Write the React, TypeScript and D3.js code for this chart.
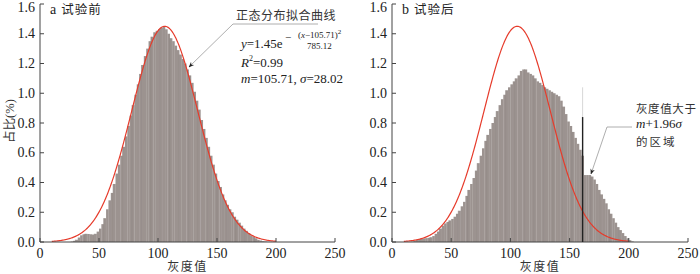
import * as d3 from 'd3';

// histogram bins, 2 gray levels wide, percentage per bin
const binWidth = 2;
const beforeStart = 20;
const beforeValues = [
  0, 0, 0, 0.003, 0.008, 0.015, 0.03, 0.045, 0.052, 0.055, 0.054, 0.052, 0.05, 0.055, 0.07,
  0.09, 0.12, 0.16, 0.22, 0.28, 0.33, 0.39, 0.46, 0.52, 0.58, 0.64, 0.71, 0.78, 0.85, 0.92,
  0.99, 1.06, 1.13, 1.19, 1.25, 1.3, 1.35, 1.38, 1.41, 1.42, 1.43, 1.44, 1.45, 1.43, 1.4,
  1.37, 1.35, 1.32, 1.29, 1.26, 1.23, 1.2, 1.16, 1.12, 1.07, 1.01, 0.95, 0.89, 0.82, 0.76,
  0.7, 0.64, 0.58, 0.52, 0.46, 0.41, 0.37, 0.32, 0.28, 0.25, 0.22, 0.2, 0.17, 0.15, 0.13,
  0.11, 0.09, 0.075, 0.06, 0.045, 0.035, 0.025, 0.015, 0.01, 0.006, 0.004, 0.002, 0.001, 0, 0,
];
const afterStart = 14;
const afterValues = [
  0, 0.003, 0.008, 0.015, 0.02, 0.022, 0.024, 0.026, 0.028, 0.032, 0.04, 0.055, 0.07, 0.09,
  0.11, 0.125, 0.135, 0.145, 0.155, 0.17, 0.19, 0.21, 0.24, 0.27, 0.31, 0.35, 0.39, 0.43,
  0.48, 0.53, 0.58, 0.63, 0.68, 0.72, 0.76, 0.8, 0.84, 0.88, 0.92, 0.96, 0.99, 1.02, 1.04,
  1.06, 1.08, 1.1, 1.12, 1.15, 1.16, 1.16, 1.14, 1.13, 1.12, 1.1, 1.08, 1.07, 1.055, 1.04,
  1.03, 1.02, 1.01, 1.0, 0.99, 0.98, 0.95, 0.91, 0.86, 0.81, 0.78, 0.74, 0.7, 0.66, 0.62,
  0.58, 0.45, 0.45, 0.45, 0.44, 0.42, 0.39, 0.35, 0.32, 0.29, 0.26, 0.22, 0.19, 0.16, 0.13,
  0.1, 0.08, 0.06, 0.04, 0.025, 0.012, 0.004, 0,
];

// fitted normal curve parameters (from the annotation)
const fitAmp = 1.45;
const fitMean = 105.71;
const fitVar = 785.12;
const fitRange = [10, 200];

const xTicks = [0, 50, 100, 150, 200, 250];
const yTicks = [0, 0.2, 0.4, 0.6, 0.8, 1.0, 1.2, 1.4, 1.6];
const thresholdGray = 161; // m + 1.96σ
const thresholdLine = [0.84, 1.04];

const serif = '"Liberation Serif", "Times New Roman", serif';
const cjk = '"Noto Sans CJK SC", sans-serif';
const barFill = '#9c9390';
const red = '#e63b2b';

const top = 4;
const bottom = 242;

function Panel({ left, right, start, values, letter, title, yLabel, children }: any) {
  const x = d3.scaleLinear().domain([0, 250]).range([left, right]);
  const y = d3.scaleLinear().domain([0, 1.6]).range([bottom, top]);

  const fitPts = d3.range(fitRange[0], fitRange[1] + 0.5, 0.5);
  const fit = d3
    .line<number>()
    .x((g) => x(g))
    .y((g) => y(fitAmp * Math.exp(-((g - fitMean) ** 2) / (2 * fitVar))))(fitPts);

  return (
    <g>
      {values.map((v: number, i: number) => {
        const g0 = start + i * binWidth;
        return (
          <rect key={i} x={x(g0)} y={y(v)} width={x(g0 + binWidth) - x(g0) + 0.2}
            height={y(0) - y(v)} fill={barFill} />
        );
      })}
      {/* faint darker stripes in the histogram */}
      {values.map((v: number, i: number) =>
        i % 4 === 1 && v > 0.01 ? (
          <line key={'s' + i} x1={x(start + i * binWidth)} x2={x(start + i * binWidth)}
            y1={y(v)} y2={y(0)} stroke="#8a817e" strokeWidth={0.6} />
        ) : null
      )}
      <path d={fit ?? ''} fill="none" stroke={red} strokeWidth={1.2} />

      {/* axes */}
      <line x1={left} x2={left} y1={top} y2={bottom} stroke="#444" />
      <line x1={left} x2={right} y1={bottom} y2={bottom} stroke="#444" />
      {yTicks.map((t) => (
        <g key={'y' + t}>
          <line x1={left} x2={left + 4} y1={y(t)} y2={y(t)} stroke="#444" />
          <text x={left - 5} y={Math.max(y(t) + 4.5, 12)} textAnchor="end" fontFamily={serif} fontSize={14} fill="#222">
            {t.toFixed(1)}
          </text>
        </g>
      ))}
      {xTicks.map((t) => (
        <g key={'x' + t}>
          <line x1={x(t)} x2={x(t)} y1={bottom} y2={bottom - 4} stroke="#444" />
          <text x={x(t)} y={258} textAnchor="middle" fontFamily={serif} fontSize={14} fill="#222">
            {t}
          </text>
        </g>
      ))}
      <text x={(left + right) / 2} y={271} textAnchor="middle" fontFamily={cjk} fontSize={12} fill="#333"
        letterSpacing={1.5}>
        灰度值
      </text>
      {yLabel ? (
        <text transform={`translate(14,121) rotate(-90)`} textAnchor="middle" fontSize={12.5} fill="#333">
          <tspan fontFamily={cjk}>占比</tspan>
          <tspan fontFamily={serif}>(%)</tspan>
        </text>
      ) : null}
      <text x={left + 10} y={14} fontSize={14} fill="#222">
        <tspan fontFamily={serif}>{letter}</tspan>
        <tspan fontFamily={cjk} fontSize={12.5} dx={5} letterSpacing={1}>{title}</tspan>
      </text>
      {children?.(x, y)}
    </g>
  );
}

export default function App() {
  return (
    <svg width={700} height={274} style={{ position: 'absolute', left: 0, top: 0, background: '#fff' }}>
      <defs>
        <marker id="arr" viewBox="0 0 10 10" refX={9} refY={5} markerWidth={7} markerHeight={7} orient="auto">
          <path d="M0,1 L10,5 L0,9 L3,5 Z" fill="#222" />
        </marker>
      </defs>
      <Panel left={40} right={335} start={beforeStart} values={beforeValues} letter="a" title="试验前" yLabel>
        {() => (
          <g>
            <text x={236} y={20} fontFamily={cjk} fontSize={12} fill="#333" letterSpacing={0.5}>
              正态分布拟合曲线
            </text>
            <polyline points="318,24 233,24 189,67" fill="none" stroke="#999" strokeWidth={0.8}
              markerEnd="url(#arr)" />
            <g fontFamily={serif} fill="#222">
              <text x={241} y={48} fontSize={13}>
                <tspan fontStyle="italic">y</tspan>=1.45e
              </text>
              <text x={285} y={41} fontSize={11}>−</text>
              <text x={298} y={38} fontSize={9}>
                (<tspan fontStyle="italic">x</tspan>−105.71)
                <tspan fontSize={7} dy={-4}>2</tspan>
              </text>
              <text x={307} y={49} fontSize={9}>785.12</text>
              <text x={241} y={67} fontSize={13}>
                <tspan fontStyle="italic">R</tspan>
                <tspan fontSize={8} dy={-6}>2</tspan>
                <tspan dy={6}>=0.99</tspan>
              </text>
              <text x={241} y={83} fontSize={13}>
                <tspan fontStyle="italic">m</tspan>=105.71, <tspan fontStyle="italic">σ</tspan>=28.02
              </text>
            </g>
          </g>
        )}
      </Panel>
      <Panel left={392} right={688} start={afterStart} values={afterValues} letter="b" title="试验后">
        {(x: any, y: any) => (
          <g>
            <line x1={x(thresholdGray)} x2={x(thresholdGray)} y1={y(thresholdLine[0])} y2={y(thresholdLine[1])}
              stroke="#ccc" strokeWidth={0.8} />
            <line x1={x(thresholdGray)} x2={x(thresholdGray)} y1={y(0)} y2={y(thresholdLine[0])}
              stroke="#222" strokeWidth={1.4} />
            <text x={636} y={113} fontFamily={cjk} fontSize={11.5} fill="#333" letterSpacing={0.6}>
              灰度值大于
            </text>
            <text x={636} y={128} fontFamily={serif} fontSize={13} fill="#222">
              <tspan fontStyle="italic">m</tspan>+1.96<tspan fontStyle="italic">σ</tspan>
            </text>
            <text x={636} y={146} fontFamily={cjk} fontSize={11.5} fill="#333" letterSpacing={2}>
              的区域
            </text>
            <polyline points="632,127 607,127 591,174" fill="none" stroke="#999" strokeWidth={0.8}
              markerEnd="url(#arr)" />
          </g>
        )}
      </Panel>
    </svg>
  );
}
